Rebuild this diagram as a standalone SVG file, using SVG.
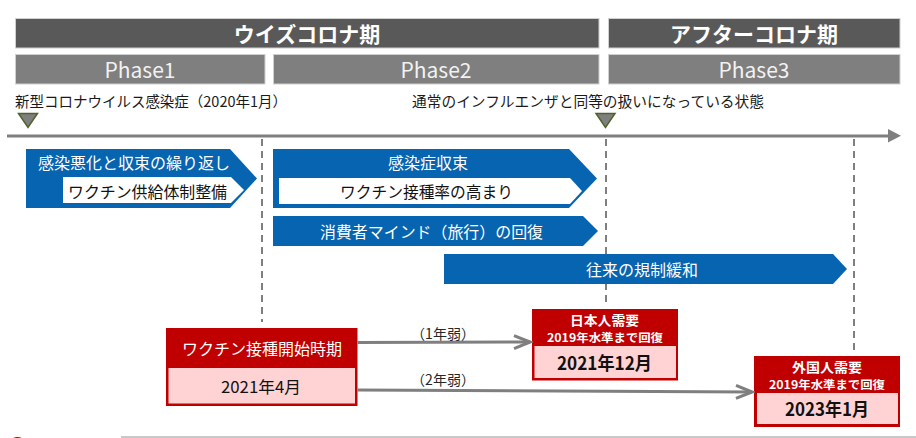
<svg xmlns="http://www.w3.org/2000/svg" width="916" height="438" viewBox="0 0 916 438">
<defs>
<style>
text{font-family:"Noto Sans CJK JP","Noto Sans",sans-serif;dominant-baseline:central}
.hdr{fill:#595959;stroke:#d0d0d0;stroke-width:1}
.ph{fill:#7f7f7f;stroke:#d0d0d0;stroke-width:1}
.hdrt{fill:#fff;font-size:21px;font-weight:bold}
.pht{fill:#f2f2f2;font-size:21px;text-anchor:middle}
.note{fill:#1a1a1a;font-size:14.5px}
.tri{fill:#7f7f7f;stroke:#4f6228;stroke-width:1.5}
.blue{fill:#0764B0}
.wh{fill:#fff}
.bt{fill:#fff;font-size:16px}
.kt{fill:#111;font-size:16px}
.red{fill:#C00000}
.pink{fill:#FFD3D3}
.rt{fill:#fff;font-weight:bold}
.dt{fill:#111;font-weight:bold;font-size:18px}
.dash{stroke:#7f7f7f;stroke-width:2;stroke-dasharray:7 5;fill:none}
.conn{stroke:#7f7f7f;stroke-width:3;fill:none}
.lbl{fill:#262626;font-size:14px;text-anchor:middle}
</style>
<marker id="open" viewBox="0 0 20 16" refX="17" refY="8" markerWidth="20" markerHeight="16" markerUnits="userSpaceOnUse" orient="auto">
<path d="M1,1.5 L17,8 L1,14.5" fill="none" stroke="#7f7f7f" stroke-width="3"/>
</marker>
</defs>

<g id="period-with">
<rect class="hdr" x="15.5" y="18.5" width="583.5" height="29.5"/>
<text class="hdrt" x="307" y="33" text-anchor="middle">ウイズコロナ期</text>
</g>
<g id="period-after">
<rect class="hdr" x="608.5" y="18.5" width="291.5" height="29.5"/>
<text class="hdrt" x="754" y="33" text-anchor="middle">アフターコロナ期</text>
</g>
<g id="phase1">
<rect class="ph" x="15.5" y="54.5" width="249.5" height="29.5"/>
<text class="pht" x="140" y="69">Phase1</text>
</g>
<g id="phase2">
<rect class="ph" x="273.5" y="54.5" width="325.5" height="29.5"/>
<text class="pht" x="436" y="69">Phase2</text>
</g>
<g id="phase3">
<rect class="ph" x="608.5" y="54.5" width="291.5" height="29.5"/>
<text class="pht" x="754" y="69">Phase3</text>
</g>

<g id="note-start">
<text class="note" x="15" y="100.5" textLength="272" lengthAdjust="spacingAndGlyphs">新型コロナウイルス感染症（2020年1月）</text>
<polygon class="tri" points="18.5,113.5 37.5,113.5 28,127.5"/>
</g>
<g id="note-normal">
<text class="note" x="412" y="100.5" textLength="352" lengthAdjust="spacingAndGlyphs">通常のインフルエンザと同等の扱いになっている状態</text>
<polygon class="tri" points="596,113.5 615,113.5 605.5,127.5"/>
</g>

<g id="axis">
<line x1="7" y1="136" x2="890" y2="136" stroke="#7f7f7f" stroke-width="3"/>
<polygon points="888,129 901,135.8 888,142.5" fill="#7f7f7f"/>
</g>

<g id="dividers">
<line class="dash" x1="262" y1="139" x2="262" y2="322"/>
<line class="dash" x1="606" y1="139" x2="606" y2="305"/>
<line class="dash" x1="854" y1="139" x2="854" y2="350"/>
</g>

<g id="chevron-phase1">
<path class="blue" d="M26,149 H230 L257,178.5 L230,208 H26 Z"/>
<path class="wh" d="M63,177 H231 L244,190 L231,203 H63 Z"/>
<text class="bt" x="38" y="162" textLength="192" lengthAdjust="spacingAndGlyphs">感染悪化と収束の繰り返し</text>
<text class="kt" x="68" y="190.5" textLength="159" lengthAdjust="spacingAndGlyphs">ワクチン供給体制整備</text>
</g>
<g id="chevron-convergence">
<path class="blue" d="M273,149 H569 L597,178.5 L569,208 H273 Z"/>
<path class="wh" d="M279,178 H570 L582,191 L570,204 H279 Z"/>
<text class="bt" x="388" y="162" textLength="80" lengthAdjust="spacingAndGlyphs">感染症収束</text>
<text class="kt" x="340" y="191" textLength="173" lengthAdjust="spacingAndGlyphs">ワクチン接種率の高まり</text>
</g>
<g id="chevron-mind">
<path class="blue" d="M273,216 H583 L598,231 L583,246 H273 Z"/>
<text class="bt" x="320" y="231" textLength="223" lengthAdjust="spacingAndGlyphs">消費者マインド（旅行）の回復</text>
</g>
<g id="chevron-travel">
<path class="blue" d="M444,254 H833 L847,269 L833,284 H444 Z"/>
<text class="bt" x="586" y="269" textLength="112" lengthAdjust="spacingAndGlyphs">往来の規制緩和</text>
</g>

<g id="box-vaccine">
<rect class="red" x="166" y="328" width="191.5" height="78"/>
<rect class="pink" x="168.5" y="368" width="186.5" height="35.5"/>
<text class="bt" x="182" y="348" textLength="160" lengthAdjust="spacingAndGlyphs">ワクチン接種開始時期</text>
<text class="kt" x="221" y="386" textLength="80" lengthAdjust="spacingAndGlyphs">2021年4月</text>
</g>
<g id="box-domestic">
<rect class="red" x="532" y="309" width="146" height="71.5"/>
<rect class="pink" x="534.5" y="346" width="141.5" height="32"/>
<text class="rt" x="570" y="319.5" font-size="13" textLength="69" lengthAdjust="spacingAndGlyphs">日本人需要</text>
<text class="rt" x="547" y="337" font-size="11.5" textLength="116" lengthAdjust="spacingAndGlyphs">2019年水準まで回復</text>
<text class="dt" x="557" y="362" textLength="95" lengthAdjust="spacingAndGlyphs">2021年12月</text>
</g>
<g id="box-foreign">
<rect class="red" x="754" y="356" width="146" height="71"/>
<rect class="pink" x="757" y="393" width="141" height="31"/>
<text class="rt" x="792" y="366.5" font-size="13" textLength="70" lengthAdjust="spacingAndGlyphs">外国人需要</text>
<text class="rt" x="769" y="384" font-size="11.5" textLength="116" lengthAdjust="spacingAndGlyphs">2019年水準まで回復</text>
<text class="dt" x="785" y="408" textLength="84" lengthAdjust="spacingAndGlyphs">2023年1月</text>
</g>

<g id="connectors">
<line class="conn" x1="357.5" y1="342.5" x2="530" y2="342" marker-end="url(#open)"/>
<text class="lbl" x="443" y="333">（1年弱）</text>
<line class="conn" x1="357.5" y1="390" x2="752" y2="392" marker-end="url(#open)"/>
<text class="lbl" x="443" y="379">（2年弱）</text>
</g>

<g id="footer">
<line x1="121" y1="437" x2="916" y2="437" stroke="#c8c8c8" stroke-width="2"/>
<circle cx="17.5" cy="446" r="9" fill="#C00000"/>
</g>
</svg>
